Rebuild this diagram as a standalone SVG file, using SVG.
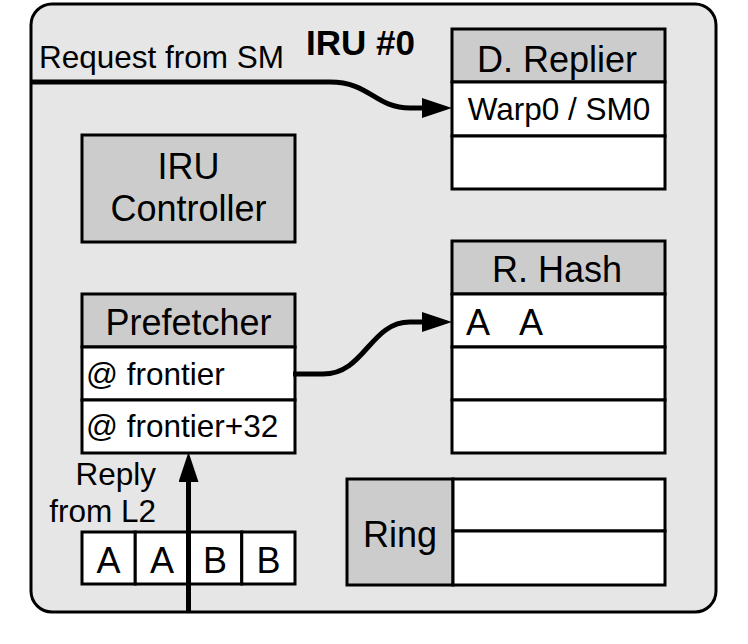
<svg xmlns="http://www.w3.org/2000/svg" width="748" height="644" viewBox="0 0 748 644">
<style>
.box{stroke:#000;stroke-width:3}
.hdr{fill:#cccccc}
.row{fill:#ffffff}
.t{font-family:"Liberation Sans",Arial,sans-serif;fill:#000}
.big{font-size:36px}
.sm{font-size:31.5px}
.c{text-anchor:middle}
.conn{fill:none;stroke:#000;stroke-width:5}
</style>
<defs>
<marker id="arr" markerUnits="userSpaceOnUse" markerWidth="30" markerHeight="20" viewBox="0 0 30 20" refX="2" refY="10" orient="auto">
<path d="M0,0 L30,10 L0,20 z" fill="#000"/>
</marker>
</defs>
<rect width="748" height="644" fill="#fff"/>
<g id="iru">
<rect x="31" y="4" width="685" height="608" rx="21" fill="#e6e6e6" stroke="#000" stroke-width="3"/>
<text class="t" x="306" y="55" font-size="35" font-weight="bold">IRU #0</text>
</g>
<g id="replier">
<rect class="box hdr" x="452" y="29" width="213" height="53"/>
<rect class="box row" x="452" y="82" width="213" height="54"/>
<rect class="box row" x="452" y="136" width="213" height="53"/>
<text class="t big c" x="557" y="72">D. Replier</text>
<text class="t sm c" x="559" y="120">Warp0 / SM0</text>
</g>
<g id="controller">
<rect class="box hdr" x="82" y="135" width="213" height="107"/>
<text class="t big c" x="188.5" y="179">IRU</text>
<text class="t big c" x="188.5" y="221">Controller</text>
</g>
<g id="prefetcher">
<rect class="box hdr" x="82" y="294" width="213" height="53"/>
<rect class="box row" x="82" y="347" width="213" height="53"/>
<rect class="box row" x="82" y="400" width="213" height="53"/>
<text class="t big c" x="188.5" y="335">Prefetcher</text>
<text class="t sm" x="86" y="385">@ frontier</text>
<text class="t sm" x="86" y="437">@ frontier+32</text>
</g>
<g id="hash">
<rect class="box hdr" x="452" y="241" width="213" height="53"/>
<rect class="box row" x="452" y="294" width="213" height="53"/>
<rect class="box row" x="452" y="347" width="213" height="53"/>
<rect class="box row" x="452" y="400" width="213" height="53"/>
<text class="t big c" x="557" y="282">R. Hash</text>
<text class="t big" x="466" y="335">A</text>
<text class="t big" x="519" y="335">A</text>
</g>
<g id="ring">
<rect class="box hdr" x="347" y="479" width="106" height="106"/>
<rect class="box row" x="453" y="479" width="212" height="52"/>
<rect class="box row" x="453" y="531" width="212" height="54"/>
<text class="t big c" x="400" y="547">Ring</text>
</g>
<g id="reply">
<rect class="box row" x="82" y="532" width="53.25" height="52"/>
<rect class="box row" x="135.25" y="532" width="53.25" height="52"/>
<rect class="box row" x="188.5" y="532" width="53.25" height="52"/>
<rect class="box row" x="241.75" y="532" width="53.25" height="52"/>
<text class="t big c" x="108.6" y="573">A</text>
<text class="t big c" x="161.9" y="573">A</text>
<text class="t big c" x="215.1" y="573">B</text>
<text class="t big c" x="268.4" y="573">B</text>
<text class="t sm" x="156" y="485" text-anchor="end">Reply</text>
<text class="t sm" x="156" y="522" text-anchor="end">from L2</text>
</g>
<g id="request-label">
<text class="t sm" x="39" y="68">Request from SM</text>
</g>
<g id="connectors">
<path class="conn" d="M31,82 L330,82 C370,82 375,108 410,108 L424,108" marker-end="url(#arr)"/>
<path class="conn" d="M293,374 L323,374 C365,374 370,322 410,322 L424,322" marker-end="url(#arr)"/>
<path class="conn" d="M188.5,611 L188.5,480" marker-end="url(#arr)"/>
</g>
</svg>
